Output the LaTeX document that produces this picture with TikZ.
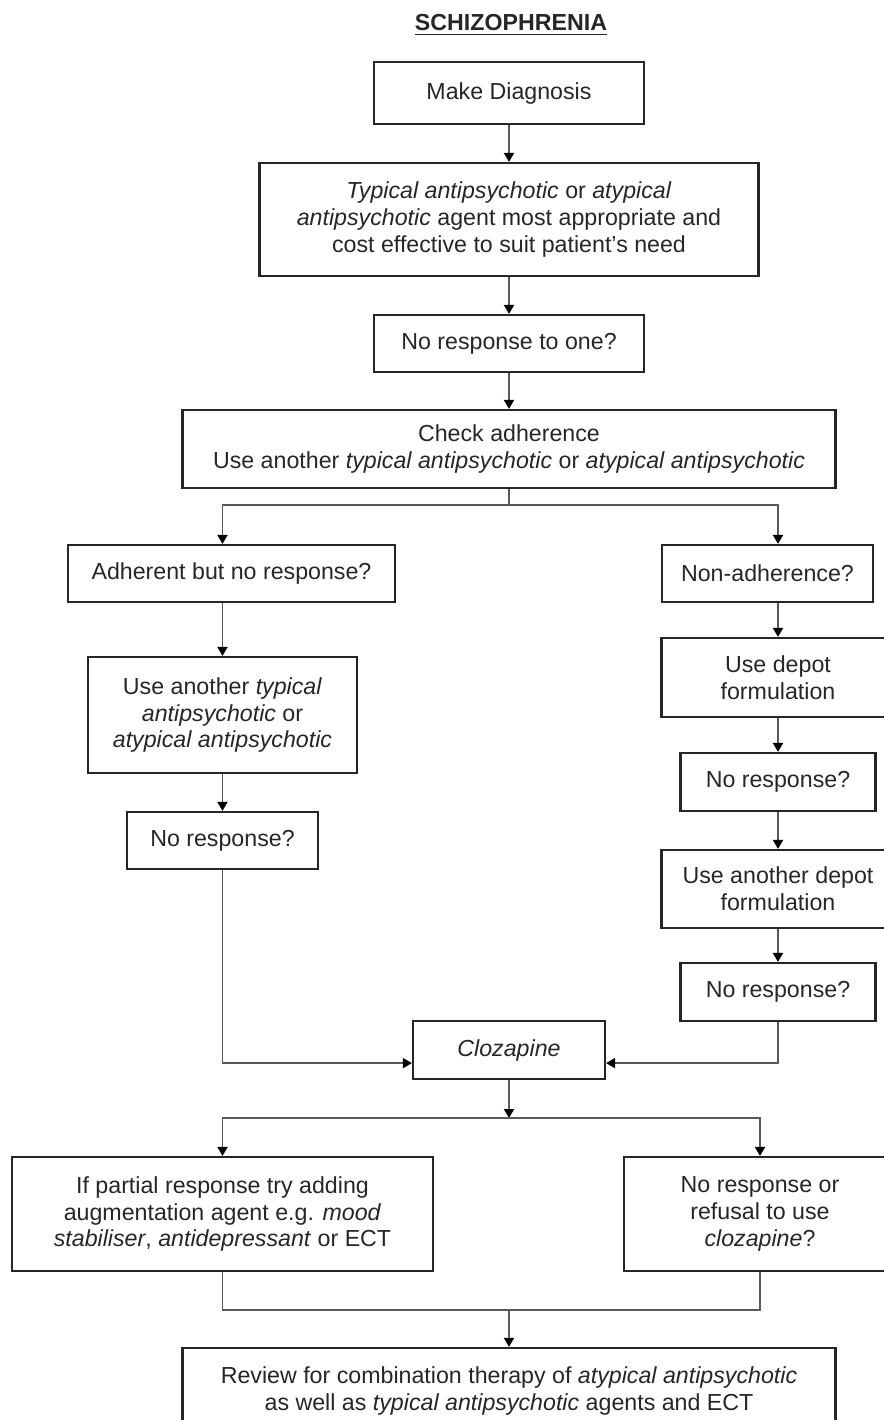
\documentclass[tikz,border=0pt]{standalone}
\usepackage{fontspec}
\setmainfont{Liberation Sans}
\usetikzlibrary{arrows.meta,calc,positioning}

\begin{document}
\begin{tikzpicture}[x=0.5pt,y=-0.5pt,
  font=\fontsize{11.6}{13.4}\selectfont,
  stage/.style={draw=black!85,line width=1.1pt,align=center,text=black!85,inner sep=2pt},
  link/.style={draw=black!65,line width=0.9pt},
  flow/.style={link,-{Triangle[width=5pt,length=4.5pt,color=black]}}]

  \useasboundingbox (0,0) rectangle (884,1420);

  \node[font=\bfseries\fontsize{11.6}{13}\selectfont,text=black!85] (title) at (511,25) {\underline{SCHIZOPHRENIA}};

  \node[stage,minimum width=135pt,minimum height=31pt] (diagnosis) at (509,93) {Make Diagnosis};
  \node[stage,minimum width=249.5pt,minimum height=56.5pt] (agent) at (509,219.5)
    {\textit{Typical antipsychotic} or \textit{atypical}\\ \textit{antipsychotic} agent most appropriate and\\ cost effective to suit patient’s need};
  \node[stage,minimum width=135pt,minimum height=28.5pt] (noone) at (509,343.5) {No response to one?};
  \node[stage,minimum width=326.5pt,minimum height=39pt] (check) at (509,449)
    {Check adherence\\ Use another \textit{typical antipsychotic} or \textit{atypical antipsychotic}};

  \node[stage,minimum width=163.5pt,minimum height=28.5pt] (adh) at (231.5,573.5) {Adherent but no response?};
  \node[stage,minimum width=134.5pt,minimum height=58pt] (another) at (222.5,715)
    {Use another \textit{typical}\\ \textit{antipsychotic} or\\ \textit{atypical antipsychotic}};
  \node[stage,minimum width=95.5pt,minimum height=28.5pt] (noresL) at (222.5,840.5) {No response?};

  \node[stage,minimum width=105.5pt,minimum height=28.5pt] (nonadh) at (767.5,573.5) {Non-adherence?};
  \node[stage,minimum width=116.5pt,minimum height=39.5pt] (depot) at (778,677.5) {Use depot\\ formulation};
  \node[stage,minimum width=97.5pt,minimum height=29pt] (noresR1) at (778,782) {No response?};
  \node[stage,minimum width=116.5pt,minimum height=39pt] (depot2) at (778,889) {Use another depot\\ formulation};
  \node[stage,minimum width=97.5pt,minimum height=29pt] (noresR2) at (778,992) {No response?};

  \node[stage,minimum width=96pt,minimum height=29pt] (cloz) at (509,1050) {\textit{Clozapine}};

  \node[stage,minimum width=210.5pt,minimum height=57pt] (partial) at (222.5,1214)
    {If partial response try adding\\ augmentation agent e.g. \textit{mood}\\ \textit{stabiliser}, \textit{antidepressant} or ECT};
  \node[stage,minimum width=136pt,minimum height=57pt] (refusal) at (760,1214)
    {No response or\\ refusal to use\\ \textit{clozapine}?};

  \node[stage,minimum width=326.5pt,minimum height=43pt] (review) at (509,1391)
    {Review for combination therapy of \textit{atypical antipsychotic}\\ as well as \textit{typical antipsychotic} agents and ECT};

  \coordinate (colL) at (222.5,0);
  \coordinate (colR) at (778,0);
  \coordinate (split1) at (509,505);
  \coordinate (split2) at (509,1118);
  \coordinate (merge) at (509,1310);

  \draw[flow] (diagnosis.south) -- (agent.north);
  \draw[flow] (agent.south) -- (noone.north);
  \draw[flow] (noone.south) -- (check.north);

  \draw[link] (check.south) -- (split1);
  \draw[flow] (split1) -| (colL |- adh.north);
  \draw[flow] (split1) -| (colR |- nonadh.north);

  \draw[flow] (colL |- adh.south) -- (another.north);
  \draw[flow] (another.south) -- (noresL.north);
  \draw[flow] (noresL.south) |- ($(cloz.south west)+(0,-17)$);

  \draw[flow] (colR |- nonadh.south) -- (depot.north);
  \draw[flow] (depot.south) -- (noresR1.north);
  \draw[flow] (noresR1.south) -- (depot2.north);
  \draw[flow] (depot2.south) -- (noresR2.north);
  \draw[flow] (noresR2.south) |- ($(cloz.south east)+(0,-17)$);

  \draw[flow] (cloz.south) -- (split2);
  \draw[flow] (split2) -| (partial.north);
  \draw[flow] (split2) -| (refusal.north);

  \draw[link] (partial.south) |- (merge) -| (refusal.south);
  \draw[flow] (merge) -- (review.north);

\end{tikzpicture}
\end{document}
